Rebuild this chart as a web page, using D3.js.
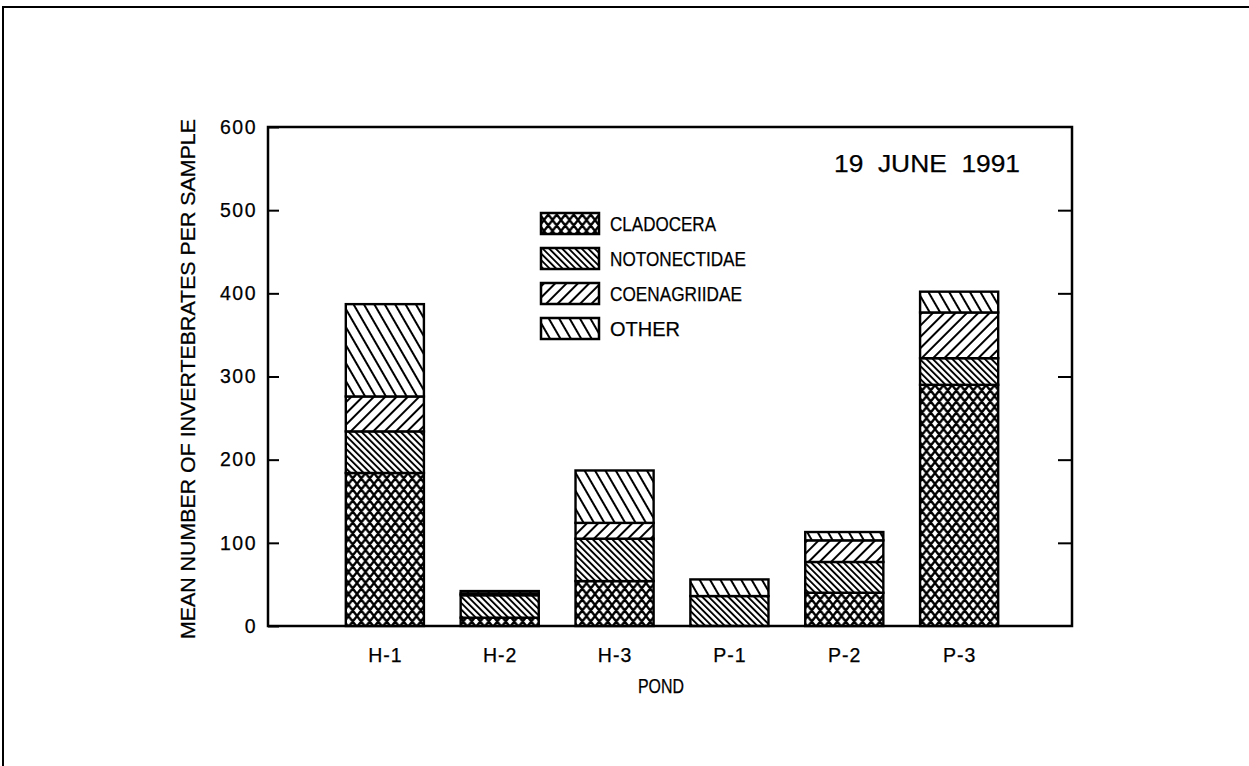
<!DOCTYPE html>
<html><head><meta charset="utf-8">
<script src="https://cdn.jsdelivr.net/npm/d3@7"></script>
<style>
body{margin:0;background:#fff}
svg text{font-family:"Liberation Sans",Arial,sans-serif;fill:#000;stroke:#000;stroke-width:0.25}
</style>
</head><body>
<svg id="c" width="1249" height="766"></svg>
<script>
// ---- data ----
const ponds = ["H-1","H-2","H-3","P-1","P-2","P-3"];
const cladocera    = [184, 10, 54,  0, 40, 290];
const notonectidae = [ 50, 27, 51, 36, 37,  32];
const coenagriidae = [ 42,  2, 19,  0, 26,  55];
const other        = [111,  3, 63, 20, 10,  25];
const seriesNames  = ["CLADOCERA","NOTONECTIDAE","COENAGRIIDAE","OTHER"];
const yTickValues  = [0,100,200,300,400,500,600];
const titleText    = "19  JUNE  1991";
const xTitle       = "POND";
const yTitle       = "MEAN NUMBER OF INVERTEBRATES PER SAMPLE";

// ---- layout ----
const svg = d3.select("#c");
const L = 268, R = 1072, T = 127, B = 626;
const x = d3.scalePoint().domain(ponds).range([L, R]).padding(1);
const y = d3.scaleLinear().domain([0, 600]).range([B, T]);
const barW = x.step() * 0.68;

// page border
svg.append("path").attr("d", "M3,766 L3,7 L1249,7")
  .attr("fill","none").attr("stroke","#000").attr("stroke-width",2);

// ---- patterns ----
const defs = svg.append("defs");
function linePattern(id, spacing, angle, sw){
  const p = defs.append("pattern").attr("id", id)
    .attr("patternUnits","userSpaceOnUse")
    .attr("width", spacing).attr("height", 10)
    .attr("patternTransform", `rotate(${angle})`);
  p.append("rect").attr("width", spacing).attr("height", 10).attr("fill","#fff");
  p.append("rect").attr("x",0).attr("width", sw).attr("height", 10).attr("fill","#000");
}
(function crossPattern(){
  const w = 8.5, h = 11;
  const p = defs.append("pattern").attr("id","pClad")
    .attr("patternUnits","userSpaceOnUse").attr("width", w).attr("height", h);
  p.append("rect").attr("width", w).attr("height", h).attr("fill","#fff");
  let d = "";
  for (let k = -1; k <= 1; k++) {
    d += `M${k*w},0L${k*w+w},${h}M${k*w+w},0L${k*w},${h}`;
  }
  p.append("path").attr("d", d).attr("stroke","#000").attr("stroke-width",2.3).attr("fill","none");
})();
linePattern("pNoto", 4.6, -45, 1.9);
linePattern("pCoen", 8, 45, 2);
linePattern("pOther", 9, -30, 2);
const fills = ["url(#pClad)","url(#pNoto)","url(#pCoen)","url(#pOther)"];

// ---- stacked bars ----
const table = ponds.map((p,i)=>({pond:p, CLADOCERA:cladocera[i], NOTONECTIDAE:notonectidae[i], COENAGRIIDAE:coenagriidae[i], OTHER:other[i]}));
const stacked = d3.stack().keys(seriesNames)(table);
stacked.forEach((layer, li) => {
  svg.append("g").selectAll("rect").data(layer.filter(d => d[1] - d[0] > 0)).join("rect")
    .attr("x", d => x(d.data.pond) - barW/2 + 2)
    .attr("width", barW)
    .attr("y", d => y(d[1]))
    .attr("height", d => y(d[0]) - y(d[1]))
    .attr("fill", fills[li])
    .attr("stroke","#000").attr("stroke-width",2.4);
});

// ---- frame & axes ----
svg.append("rect").attr("x",L).attr("y",T).attr("width",R-L).attr("height",B-T)
  .attr("fill","none").attr("stroke","#000").attr("stroke-width",2.5);

const yAxis = svg.append("g").attr("transform",`translate(${L},0)`)
  .call(d3.axisLeft(y).tickValues(yTickValues).tickSizeInner(-11).tickSizeOuter(0).tickPadding(11));
yAxis.select(".domain").remove();
yAxis.selectAll("line").attr("stroke","#000").attr("stroke-width",2);
yAxis.selectAll("text").attr("font-size",19.5).attr("letter-spacing",1.5)
  .attr("font-family","'Liberation Sans',Arial,sans-serif");

const rAxis = svg.append("g").attr("transform",`translate(${R},0)`)
  .call(d3.axisRight(y).tickValues(yTickValues.slice(1,-1)).tickSizeInner(-14).tickSizeOuter(0).tickFormat(""));
rAxis.select(".domain").remove();
rAxis.selectAll("line").attr("stroke","#000").attr("stroke-width",2);

const xAxis = svg.append("g").attr("transform",`translate(0,${B})`)
  .call(d3.axisBottom(x).tickSize(0).tickPadding(22));
xAxis.select(".domain").remove();
xAxis.selectAll("text").attr("font-size",19.5).attr("letter-spacing",1)
  .attr("font-family","'Liberation Sans',Arial,sans-serif")
  .attr("dx", 2);

// titles
svg.append("text").attr("x",661).attr("y",693).attr("text-anchor","middle")
  .attr("font-size",20).attr("textLength",46).attr("lengthAdjust","spacingAndGlyphs").text(xTitle);
svg.append("text").attr("transform","translate(195,379) rotate(-90)").attr("text-anchor","middle")
  .attr("font-size",20).attr("textLength",520).attr("lengthAdjust","spacingAndGlyphs").text(yTitle);
svg.append("text").attr("x",1020).attr("y",172).attr("text-anchor","end")
  .attr("font-size",23).attr("xml:space","preserve")
  .attr("textLength",186).attr("lengthAdjust","spacingAndGlyphs")
  .style("white-space","pre").text(titleText);

// legend
const legendWidths = [106, 136, 132, 70];
const lg = svg.append("g");
seriesNames.forEach((name,i)=>{
  const yy = 213 + i*35;
  lg.append("rect").attr("x",541).attr("y",yy).attr("width",58).attr("height",21)
    .attr("fill",fills[i]).attr("stroke","#000").attr("stroke-width",2.5);
  lg.append("text").attr("x",610).attr("y",yy+18).attr("font-size",20)
    .attr("textLength",legendWidths[i]).attr("lengthAdjust","spacingAndGlyphs").text(name);
});
</script>
</body></html>
